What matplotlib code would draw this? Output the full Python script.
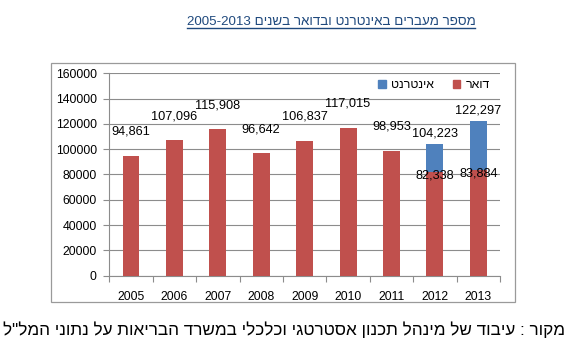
import matplotlib
matplotlib.use('Agg')
import matplotlib.pyplot as plt
from matplotlib.patches import Rectangle, Patch
from matplotlib.lines import Line2D
import numpy as np

plt.rcParams['font.family'] = ['Liberation Sans', 'DejaVu Sans']

# data
years = ['2005', '2006', '2007', '2008', '2009', '2010', '2011', '2012', '2013']
post = [94861, 107096, 115908, 96642, 106837, 117015, 98953, 82338, 83884]
internet = [0, 0, 0, 0, 0, 0, 0, 21885, 38413]
totals = [104223, 122297]  # shown for 2012, 2013

title_he = 'מספר מעברים באינטרנט ובדואר בשנים'
title_years = '2005-2013'
source_he = 'מקור : עיבוד של מינהל תכנון אסטרטגי וכלכלי במשרד הבריאות על נתוני המל"ל'
lbl_post = 'דואר'
lbl_net = 'אינטרנט'


def vis(s):
    # matplotlib has no bidi, so flip hebrew to visual order
    return s[::-1]


RED = '#C0504D'
BLUE = '#4F81BD'
GRID = '#8C8C8C'
NAVY = '#1F497D'

W, H = 569, 347
fig = plt.figure(figsize=(W / 100, H / 100), dpi=100)

# outer chart frame
fig.patches.append(Rectangle((51 / W, 1 - 302 / H), 464 / W, 239 / H,
                             transform=fig.transFigure, fill=False,
                             edgecolor='#9A9A9A', linewidth=0.9))

ax = fig.add_axes([109.3 / W, 1 - 275.7 / H, 390.7 / W, 202.4 / H])
x = np.arange(len(years))
bw = 0.39
ax.bar(x, post, bw, color=RED, zorder=3)
ax.bar(x, internet, bw, bottom=post, color=BLUE, zorder=3)

ax.set_xlim(-0.5, len(years) - 0.5)
ax.set_ylim(0, 160000)
ax.set_yticks(np.arange(0, 160001, 20000))
ax.yaxis.grid(True, color=GRID, linewidth=0.8, zorder=0)
ax.tick_params(axis='y', length=4, width=0.8, color=GRID, pad=5, labelsize=8.8)

# category ticks between bars, labels under bars
ax.set_xticks(np.arange(-0.5, len(years), 1))
ax.set_xticklabels([])
ax.tick_params(axis='x', which='major', length=4, width=0.8, color=GRID, direction='out')
ax.set_xticks(x, minor=True)
ax.set_xticklabels(years, minor=True)
ax.tick_params(axis='x', which='minor', length=0, pad=11, labelsize=8.8)

for s in ['top', 'right']:
    ax.spines[s].set_visible(False)
for s in ['left', 'bottom']:
    ax.spines[s].set_color(GRID)
    ax.spines[s].set_linewidth(0.8)

# data labels
k = 0
for i in range(len(years)):
    if internet[i] == 0:
        ax.annotate(f'{post[i]:,}', (x[i], post[i]), xytext=(0, 24),
                    textcoords='offset pixels', ha='center', va='center',
                    fontsize=9.2, zorder=5)
    else:
        ax.annotate(f'{totals[k]:,}', (x[i], post[i] + internet[i]), xytext=(0, 10),
                    textcoords='offset pixels', ha='center', va='center',
                    fontsize=9.2, zorder=5)
        ax.annotate(f'{post[i]:,}', (x[i], post[i]), xytext=(0, -4),
                    textcoords='offset pixels', ha='center', va='center',
                    fontsize=9.2, zorder=5)
        k += 1

handles = [Patch(color=BLUE, label=vis(lbl_net)), Patch(color=RED, label=vis(lbl_post))]
ax.legend(handles=handles, ncol=2, loc='center', bbox_to_anchor=(434 / W, 1 - 85 / H),
          bbox_transform=fig.transFigure, frameon=False, fontsize=8.8,
          handlelength=0.6, handleheight=0.6, handletextpad=0.4, columnspacing=1.6)

# title with underline
title = fig.text(331 / W, 1 - 22 / H, title_years + ' ' + vis(title_he), ha='center',
                 va='center', fontsize=9.6, color=NAVY)
fig.text(565 / W, 1 - 330 / H, vis(source_he), ha='right', va='center',
         fontsize=12.3, color='black')

fig.canvas.draw()
bb = title.get_window_extent().transformed(fig.transFigure.inverted())
fig.lines.append(Line2D([bb.x0, bb.x1], [bb.y0 + 0.001, bb.y0 + 0.001],
                        transform=fig.transFigure, color=NAVY, linewidth=1.0))

fig.savefig('out.png', dpi=100)
